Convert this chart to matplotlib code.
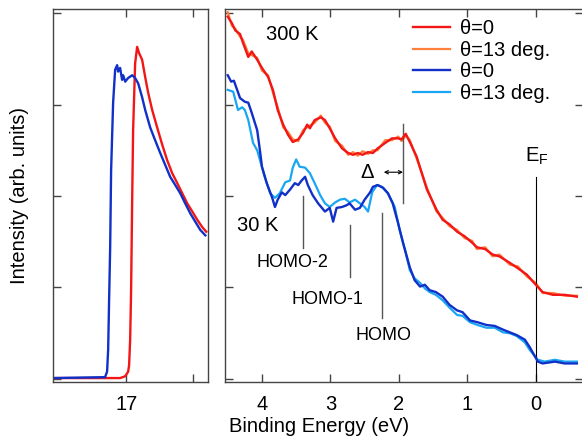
import numpy as np
import matplotlib
matplotlib.use('Agg')
import matplotlib.pyplot as plt

plt.rcParams['font.family'] = ['Liberation Sans', 'DejaVu Sans']
plt.rcParams['mathtext.fontset'] = 'custom'
plt.rcParams['mathtext.rm'] = 'Liberation Sans'
size = 14.5

#%% data
# left panel: secondary electron cutoff
cut_x_red = [17.545, 17.045, 17.007, 16.985, 16.978, 16.970, 16.963, 16.955, 16.948, 16.933,
             16.918, 16.903, 16.881, 16.858, 16.836, 16.806, 16.769, 16.731, 16.694, 16.657,
             16.619, 16.582, 16.545, 16.507, 16.470, 16.433, 16.403]
cut_y_red = [0.01, 0.01, 0.03, 0.08, 0.15, 0.43, 0.97, 1.96, 2.72, 3.45,
             3.63, 3.56, 3.49, 3.30, 3.13, 2.94, 2.75, 2.56, 2.39, 2.25,
             2.14, 2.03, 1.92, 1.83, 1.74, 1.66, 1.61]

cut_x_blue = [17.545, 17.157, 17.142, 17.134, 17.127, 17.119, 17.112, 17.097, 17.082, 17.067,
              17.060, 17.045, 17.030, 17.022, 17.007, 16.985, 16.955, 16.933, 16.910, 16.881,
              16.858, 16.821, 16.784, 16.746, 16.709, 16.672, 16.634, 16.597, 16.560, 16.522,
              16.485, 16.448, 16.410]
cut_y_blue = [0.01, 0.02, 0.08, 0.32, 0.86, 1.44, 2.28, 3.02, 3.38, 3.43,
              3.36, 3.40, 3.27, 3.32, 3.25, 3.29, 3.32, 3.29, 3.23, 3.08,
              2.94, 2.75, 2.61, 2.47, 2.34, 2.21, 2.12, 2.03, 1.92, 1.81,
              1.72, 1.63, 1.57]

# right panel: valence band, 300 K
be_300 = [4.50, 4.44, 4.39, 4.32, 4.28, 4.20, 4.15, 4.07, 4.00, 3.91, 3.84, 3.77, 3.69, 3.62,
          3.55, 3.47, 3.40, 3.34, 3.30, 3.23, 3.14, 3.08, 3.01, 2.93, 2.83, 2.74, 2.67, 2.60,
          2.53, 2.45, 2.38, 2.31, 2.20, 2.10, 2.01, 1.96, 1.90, 1.84, 1.74, 1.59, 1.45, 1.36,
          1.26, 1.15, 1.04, 0.93, 0.86, 0.74, 0.63, 0.53, 0.38, 0.26, 0.13, 0.00, -0.10, -0.25,
          -0.42, -0.60]
int_300_t0 = [3.96, 3.89, 3.81, 3.77, 3.68, 3.52, 3.58, 3.49, 3.40, 3.30, 3.16, 2.94, 2.78, 2.67,
              2.59, 2.62, 2.69, 2.78, 2.74, 2.83, 2.86, 2.83, 2.74, 2.63, 2.52, 2.47, 2.45, 2.47,
              2.45, 2.48, 2.47, 2.52, 2.58, 2.63, 2.63, 2.62, 2.68, 2.59, 2.43, 2.07, 1.85, 1.74,
              1.69, 1.61, 1.56, 1.49, 1.44, 1.42, 1.36, 1.34, 1.27, 1.21, 1.14, 1.03, 0.95, 0.92,
              0.92, 0.90]
int_300_t13 = [4.01, 3.86, 3.83, 3.74, 3.71, 3.56, 3.54, 3.51, 3.37, 3.32, 3.13, 2.97, 2.75, 2.70,
               2.62, 2.60, 2.72, 2.75, 2.77, 2.80, 2.88, 2.80, 2.76, 2.60, 2.55, 2.45, 2.48, 2.44,
               2.49, 2.46, 2.50, 2.50, 2.61, 2.61, 2.65, 2.60, 2.66, 2.61, 2.41, 2.09, 1.83, 1.76,
               1.67, 1.63, 1.54, 1.51, 1.42, 1.44, 1.34, 1.36, 1.25, 1.23, 1.12, 1.05, 0.94, 0.94,
               0.91, 0.91]

# right panel: valence band, 30 K
be_30 = [4.50, 4.45, 4.41, 4.32, 4.25, 4.20, 4.15, 4.07, 4.03, 4.00, 3.93, 3.85, 3.81, 3.77,
         3.71, 3.66, 3.59, 3.52, 3.47, 3.42, 3.37, 3.33, 3.26, 3.18, 3.08, 3.01, 2.96, 2.91,
         2.83, 2.76, 2.72, 2.64, 2.57, 2.50, 2.42, 2.38, 2.31, 2.23, 2.16, 2.09, 2.01, 1.94,
         1.84, 1.77, 1.69, 1.62, 1.55, 1.46, 1.36, 1.26, 1.15, 1.07, 0.96, 0.85, 0.72, 0.60,
         0.48, 0.38, 0.28, 0.16, 0.09, -0.03, -0.10, -0.28, -0.42, -0.60]
int_30_t0 = [3.32, 3.25, 3.26, 3.07, 3.03, 3.02, 2.91, 2.72, 2.50, 2.32, 2.14, 1.98, 1.88, 1.96,
             2.04, 2.01, 2.07, 2.14, 2.12, 2.17, 2.21, 2.12, 2.01, 1.92, 1.83, 1.87, 1.72, 1.87,
             1.88, 1.90, 1.92, 1.85, 1.87, 1.96, 2.04, 2.10, 2.12, 2.09, 2.03, 1.92, 1.70, 1.49,
             1.22, 1.08, 1.01, 1.03, 0.97, 0.95, 0.90, 0.81, 0.75, 0.73, 0.64, 0.62, 0.59, 0.58,
             0.54, 0.51, 0.48, 0.43, 0.35, 0.19, 0.17, 0.19, 0.17, 0.17]
be_30b = [4.50, 4.42, 4.35, 4.29, 4.25, 4.20, 4.13, 4.07, 3.96, 3.88, 3.81, 3.74, 3.66, 3.59,
          3.55, 3.50, 3.45, 3.37, 3.30, 3.23, 3.15, 3.08, 3.01, 2.93, 2.86, 2.79, 2.72, 2.64,
          2.57, 2.50, 2.45, 2.39, 2.32, 2.25, 2.16, 2.06, 1.99, 1.91, 1.84, 1.77, 1.69, 1.62,
          1.55, 1.46, 1.36, 1.26, 1.15, 1.07, 0.96, 0.85, 0.72, 0.60, 0.48, 0.38, 0.28, 0.16,
          0.09, -0.03, -0.13, -0.28, -0.42, -0.60]
int_30_t13 = [3.16, 3.14, 2.94, 2.97, 2.94, 2.83, 2.58, 2.50, 2.21, 2.03, 1.98, 2.03, 2.15, 2.17,
              2.31, 2.40, 2.32, 2.31, 2.25, 2.14, 2.01, 1.92, 1.88, 1.93, 1.96, 1.97, 1.93, 1.96,
              1.92, 1.88, 1.83, 2.04, 2.12, 2.10, 2.03, 1.88, 1.63, 1.41, 1.19, 1.10, 1.05, 0.99,
              0.95, 0.92, 0.86, 0.78, 0.70, 0.69, 0.62, 0.59, 0.56, 0.56, 0.51, 0.50, 0.47, 0.40,
              0.32, 0.21, 0.19, 0.21, 0.19, 0.19]

red = '#f21616'
orange = '#ff7f3c'
blue = '#1030c8'
lblue = '#1aa6f2'
spine_col = '#444444'

#%% figure
fig = plt.figure(figsize=(5.82, 4.38), dpi=100)
ax1 = fig.add_axes([53/582, 56/438, 155/582, 373/438])
ax2 = fig.add_axes([225/582, 56/438, 358/582, 373/438])

ax1.plot(cut_x_red, cut_y_red, color=red, lw=1.7)
ax1.plot(cut_x_blue, cut_y_blue, color=blue, lw=1.7)
ax1.set_xlim(17.545, 16.39)
ax1.set_ylim(-0.033, 4.044)
ax1.set_xticks([17, 16.5])
ax1.set_xticklabels(['17', ''])

ax2.plot(be_300, int_300_t0, color=red, lw=1.7, label='θ=0', zorder=3)
ax2.plot(be_300, int_300_t13, color=orange, lw=1.6, label='θ=13 deg.', zorder=2)
ax2.plot(be_30, int_30_t0, color=blue, lw=1.7, label='θ=0', zorder=3)
ax2.plot(be_30b, int_30_t13, color=lblue, lw=1.6, label='θ=13 deg.', zorder=2)
ax2.set_xlim(4.54, -0.69)
ax2.set_ylim(-0.033, 4.044)
ax2.set_xticks([4, 3, 2, 1, 0])

for ax in (ax1, ax2):
    ax.set_yticks([0, 1, 2, 3, 4])
    ax.set_yticklabels([])
    ax.tick_params(direction='in', length=6, width=1, color=spine_col,
                   labelsize=size, pad=9, top=True)
    for s in ax.spines.values():
        s.set_color(spine_col)
        s.set_linewidth(1)
ax2.tick_params(right=True)

# annotations
gray = '#555555'
ax2.plot([3.40, 3.40], [2.00, 1.43], color=gray, lw=1)
ax2.plot([2.72, 2.72], [1.68, 1.11], color=gray, lw=1)
ax2.plot([2.25, 2.25], [1.81, 0.67], color=gray, lw=1)
ax2.plot([1.94, 1.94], [2.79, 1.92], color=gray, lw=1)
ax2.plot([0, 0], [2.21, -0.033], color='k', lw=0.8)
ax2.annotate('', xy=(2.22, 2.26), xytext=(1.94, 2.26),
             arrowprops=dict(arrowstyle='<->', color='k', lw=0.8, shrinkA=0, shrinkB=0,
                             mutation_scale=6))

size_h = 13
ax2.text(3.56, 1.27, 'HOMO-2', size=size_h, ha='center', va='center')
ax2.text(3.04, 0.87, 'HOMO-1', size=size_h, ha='center', va='center')
ax2.text(2.22, 0.48, 'HOMO', size=size_h, ha='center', va='center')
ax2.text(3.94, 3.76, '300 K', size=size, ha='left', va='center')
ax2.text(4.36, 1.68, '30 K', size=size, ha='left', va='center')
ax2.text(2.47, 2.26, 'Δ', size=size, ha='center', va='center')
ax2.text(-0.01, 2.43, r'E$_\mathrm{F}$', size=size, ha='center', va='center')

ax2.legend(loc='upper left', bbox_to_anchor=(0.525, 0.972), frameon=False,
           prop={'size': size}, handlelength=1.85, handletextpad=0.5,
           labelspacing=0.12, borderpad=0, borderaxespad=0)

fig.text(20/582, 1 - 195/438, 'Intensity (arb. units)', rotation=90,
         ha='center', va='center', size=size)
fig.text(319/582, 1 - 427/438, 'Binding Energy (eV)', ha='center', va='center', size=size)

fig.savefig('out.png', dpi=100)
